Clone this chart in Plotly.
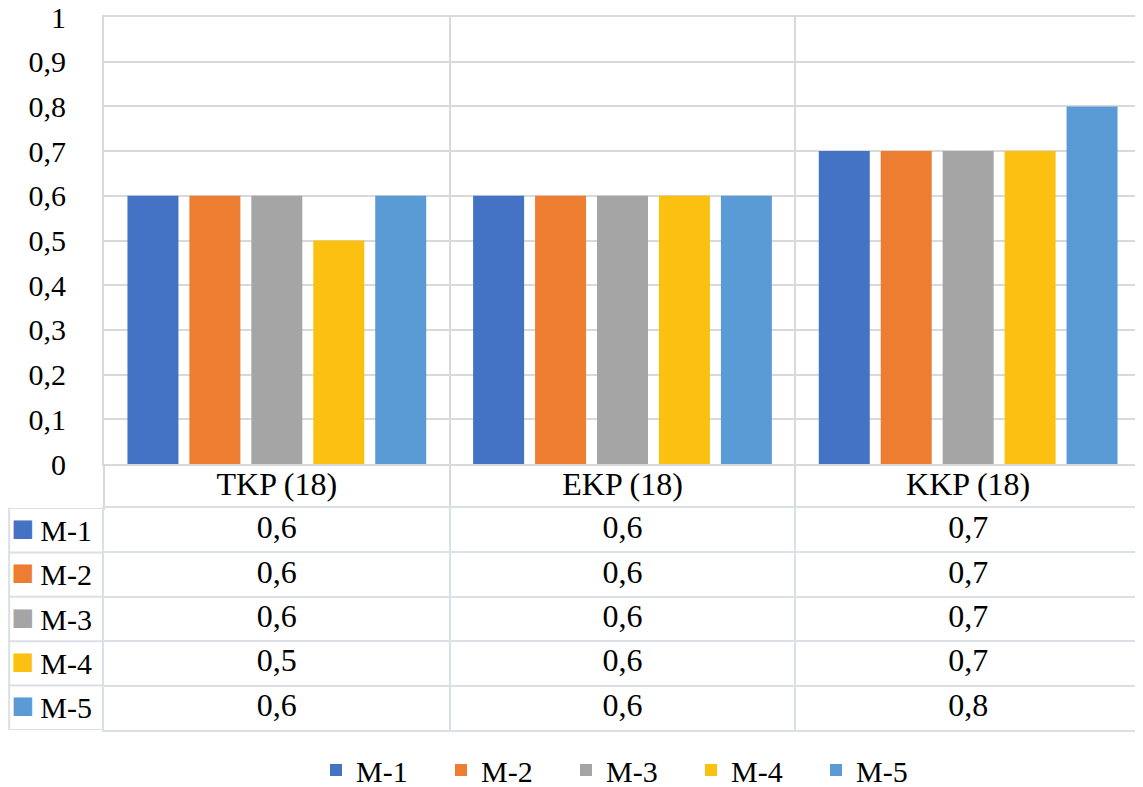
import plotly.graph_objects as go

# datos
categorias = ["TKP (18)", "EKP (18)", "KKP (18)"]
series = ["M-1", "M-2", "M-3", "M-4", "M-5"]
m1 = [0.6, 0.6, 0.7]
m2 = [0.6, 0.6, 0.7]
m3 = [0.6, 0.6, 0.7]
m4 = [0.5, 0.6, 0.7]
m5 = [0.6, 0.6, 0.8]
valores = [m1, m2, m3, m4, m5]
colores = ["#4472c4", "#ed7d31", "#a5a5a5", "#fcc010", "#5b9bd5"]
y_ticks = [0, 0.1, 0.2, 0.3, 0.4, 0.5, 0.6, 0.7, 0.8, 0.9, 1]
y_ticktext = ["0", "0,1", "0,2", "0,3", "0,4", "0,5", "0,6", "0,7", "0,8", "0,9", "1"]

FONT = "Liberation Serif"
FS = 32
GRID = "#d9d9d9"
TABLE_LINE = "#dbe0e7"

# la pagina tiene 8px de margen en el body
OFF = 8
W, H = 1143 - OFF, 787 - OFF
ML, MR, MT, MB = 8 - OFF, 2, 17 - OFF, 787 - 730
plot_w = W - ML - MR
plot_h = H - MT - MB
left_col = 96          # ancho de la columna de leyenda de la tabla
plot_bottom = 464 - OFF
table_top = 508 - OFF

x_dom = [left_col / plot_w, 1]
y_dom = [(H - MB - plot_bottom) / plot_h, 1]
y2_dom = [0, (H - MB - table_top) / plot_h]

fig = go.Figure()

for nombre, vals, col in zip(series, valores, colores):
    fig.add_trace(go.Bar(x=categorias, y=vals, name=nombre, marker_color=col,
                         marker_line_width=0))

# tabla de datos bajo el grafico
tx, ty, tt = [], [], []
for nombre, vals in zip(series, valores):
    for c, v in zip(categorias, vals):
        tx.append(c)
        ty.append(nombre)
        tt.append(str(v).replace(".", ","))
fig.add_trace(go.Scatter(x=tx, y=ty, text=tt, mode="text", xaxis="x2", yaxis="y2",
                         textfont=dict(family=FONT, size=FS, color="black"),
                         showlegend=False, hoverinfo="skip"))

etiquetas = [f"<span style='color:{c};font-size:38px'>■</span>\u2009{n}" for n, c in zip(series, colores)]

# bordes de la columna izquierda de la tabla
shapes = []
for i in range(len(series) + 1):
    shapes.append(dict(type="line", xref="paper", yref="y2", x0=0, x1=x_dom[0],
                       y0=i - 0.5, y1=i - 0.5, line=dict(color=TABLE_LINE, width=2)))
shapes.append(dict(type="line", xref="paper", yref="y2", x0=0.001, x1=0.001,
                   y0=-0.5, y1=len(series) - 0.5, line=dict(color=TABLE_LINE, width=2)))

fig.update_layout(
    width=W, height=H,
    margin=dict(l=ML, r=MR, t=MT, b=MB, autoexpand=False),
    paper_bgcolor="white", plot_bgcolor="white",
    font=dict(family=FONT, size=FS, color="black"),
    barmode="group", bargap=0.104, bargroupgap=0.177,
    shapes=shapes,
    xaxis=dict(domain=x_dom, anchor="y", type="category", categoryarray=categorias,
               range=[-0.5, 2.5],
               tickson="boundaries", ticks="outside", ticklen=44, tickwidth=2,
               tickcolor=GRID, showgrid=True, gridcolor=GRID, gridwidth=2,
               showline=True, linecolor=GRID, linewidth=2, mirror=True,
               ticklabelstandoff=-9, tickfont=dict(family=FONT, size=FS)),
    yaxis=dict(domain=y_dom, anchor="x", range=[0, 1],
               tickmode="array", tickvals=y_ticks, ticktext=y_ticktext,
               ticklabeloverflow="allow",
               showgrid=True, gridcolor=GRID, gridwidth=2, zeroline=False,
               showline=True, linecolor=GRID, linewidth=2, mirror=True,
               ticks="", ticklabelstandoff=30, tickfont=dict(family=FONT, size=30)),
    xaxis2=dict(domain=x_dom, anchor="y2", type="category", categoryarray=categorias,
                range=[-0.5, 2.5],
                tickson="boundaries", ticks="", showticklabels=False,
                showgrid=True, gridcolor=TABLE_LINE, gridwidth=2,
                showline=True, linecolor=TABLE_LINE, linewidth=2, mirror=True),
    yaxis2=dict(domain=y2_dom, anchor="x2", type="category", categoryarray=series,
                range=[len(series) - 0.5, -0.5], tickson="boundaries", ticks="",
                tickmode="array", tickvals=series, ticktext=etiquetas,
                showgrid=True, gridcolor=TABLE_LINE, gridwidth=2, zeroline=False,
                showline=True, linecolor=TABLE_LINE, linewidth=2, mirror=True,
                ticklabelstandoff=4, tickfont=dict(family=FONT, size=30)),
    legend=dict(orientation="h", x=(324 - 8 - OFF) / plot_w, xanchor="left",
                y=-(770 - 730) / plot_h, yanchor="middle", font=dict(family=FONT, size=30),
                entrywidth=80, entrywidthmode="pixels", itemclick=False),
)

fig.write_html("out.html")
